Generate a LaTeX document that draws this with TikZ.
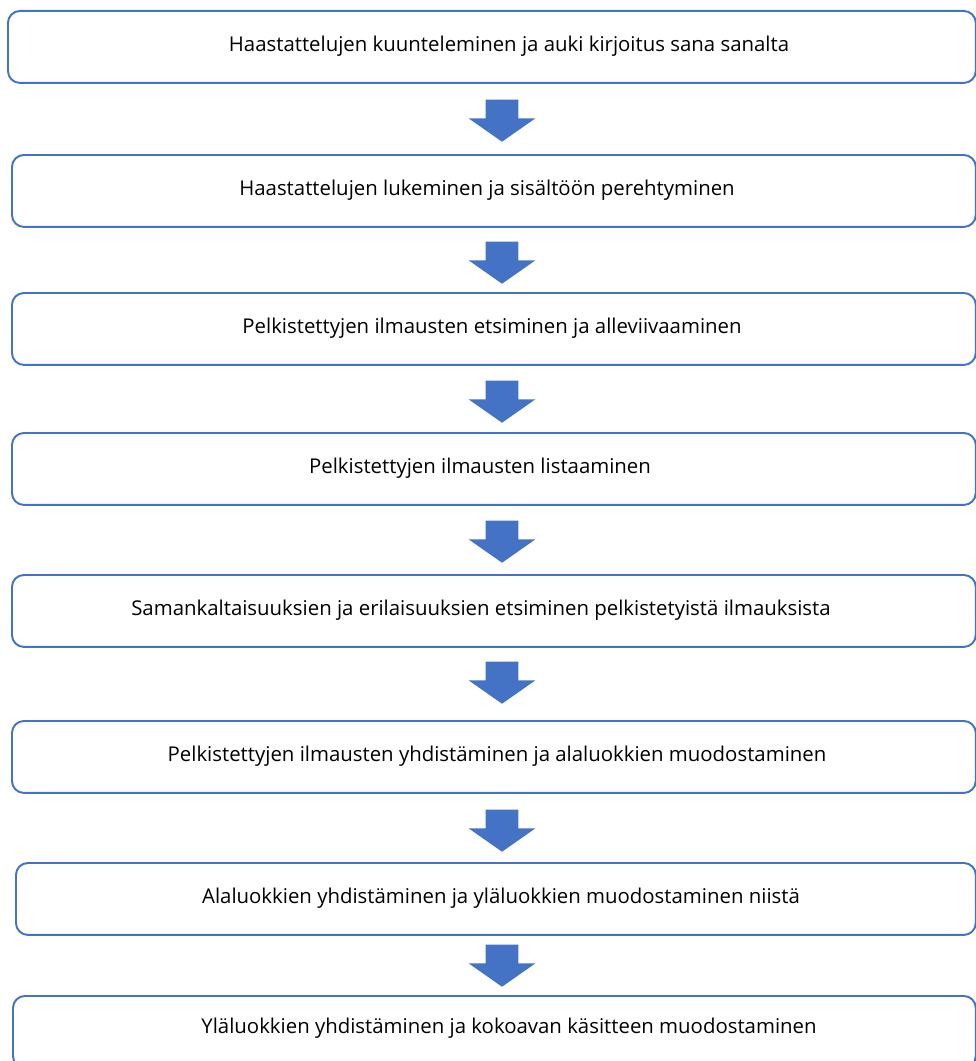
\documentclass[tikz,border=0pt]{standalone}
\usepackage{fontspec}
\setmainfont{Open Sans}
\usepackage{tikz}
\usetikzlibrary{shapes.arrows}
\definecolor{linec}{HTML}{4472C4}
\definecolor{arrc}{HTML}{4472C4}
\tikzset{
  stepbox/.style={rectangle,draw=linec,line width=1.1pt,rounded corners=0.24cm,
    minimum height=1.44cm,anchor=north west,inner sep=0pt},
  txt/.style={font=\fontsize{11.6}{14}\selectfont,inner sep=0pt},
  downarr/.style={single arrow,fill=arrc,draw=none,shape border rotate=270,
    minimum height=0.84cm,minimum width=1.32cm,single arrow head extend=0.34cm,
    single arrow tip angle=110,inner xsep=0.32cm,inner ysep=0pt}
}
\begin{document}
\begin{tikzpicture}[x=0.02cm,y=-0.02cm]
\useasboundingbox (0,0) rectangle (976,1061);
\clip (0,0) rectangle (976,1061);
% laatikot
\node[stepbox,minimum width=19.36cm] (b1) at (7,10) {};
\node[stepbox,minimum width=19.28cm] (b2) at (11,154) {};
\node[stepbox,minimum width=19.28cm] (b3) at (11,292) {};
\node[stepbox,minimum width=19.28cm] (b4) at (11,432) {};
\node[stepbox,minimum width=19.28cm] (b5) at (11,574) {};
\node[stepbox,minimum width=19.28cm] (b6) at (11,720) {};
\node[stepbox,minimum width=19.20cm] (b7) at (15,862) {};
\node[stepbox,minimum width=19.26cm] (b8) at (12,995) {};
% tekstit
\node[txt] (t1) at (509,46) {Haastattelujen kuunteleminen ja auki kirjoitus sana sanalta};
\node[txt] (t2) at (487,190) {Haastattelujen lukeminen ja sisältöön perehtyminen};
\node[txt] (t3) at (492,328) {Pelkistettyjen ilmausten etsiminen ja alleviivaaminen};
\node[txt] (t4) at (480,468) {Pelkistettyjen ilmausten listaaminen};
\node[txt] (t5) at (481,610) {Samankaltaisuuksien ja erilaisuuksien etsiminen pelkistetyistä ilmauksista};
\node[txt] (t6) at (497,756) {Pelkistettyjen ilmausten yhdistäminen ja alaluokkien muodostaminen};
\node[txt] (t7) at (501,898) {Alaluokkien yhdistäminen ja yläluokkien muodostaminen niistä};
\node[txt] (t8) at (509,1028) {Yläluokkien yhdistäminen ja kokoavan käsitteen muodostaminen};
% nuolet
\node[downarr] (a1) at (502,115) {};
\node[downarr] (a2) at (502,257) {};
\node[downarr] (a3) at (502,396) {};
\node[downarr] (a4) at (502,536) {};
\node[downarr] (a5) at (502,677) {};
\node[downarr] (a6) at (502,825) {};
\node[downarr] (a7) at (502,960) {};
\end{tikzpicture}
\end{document}
